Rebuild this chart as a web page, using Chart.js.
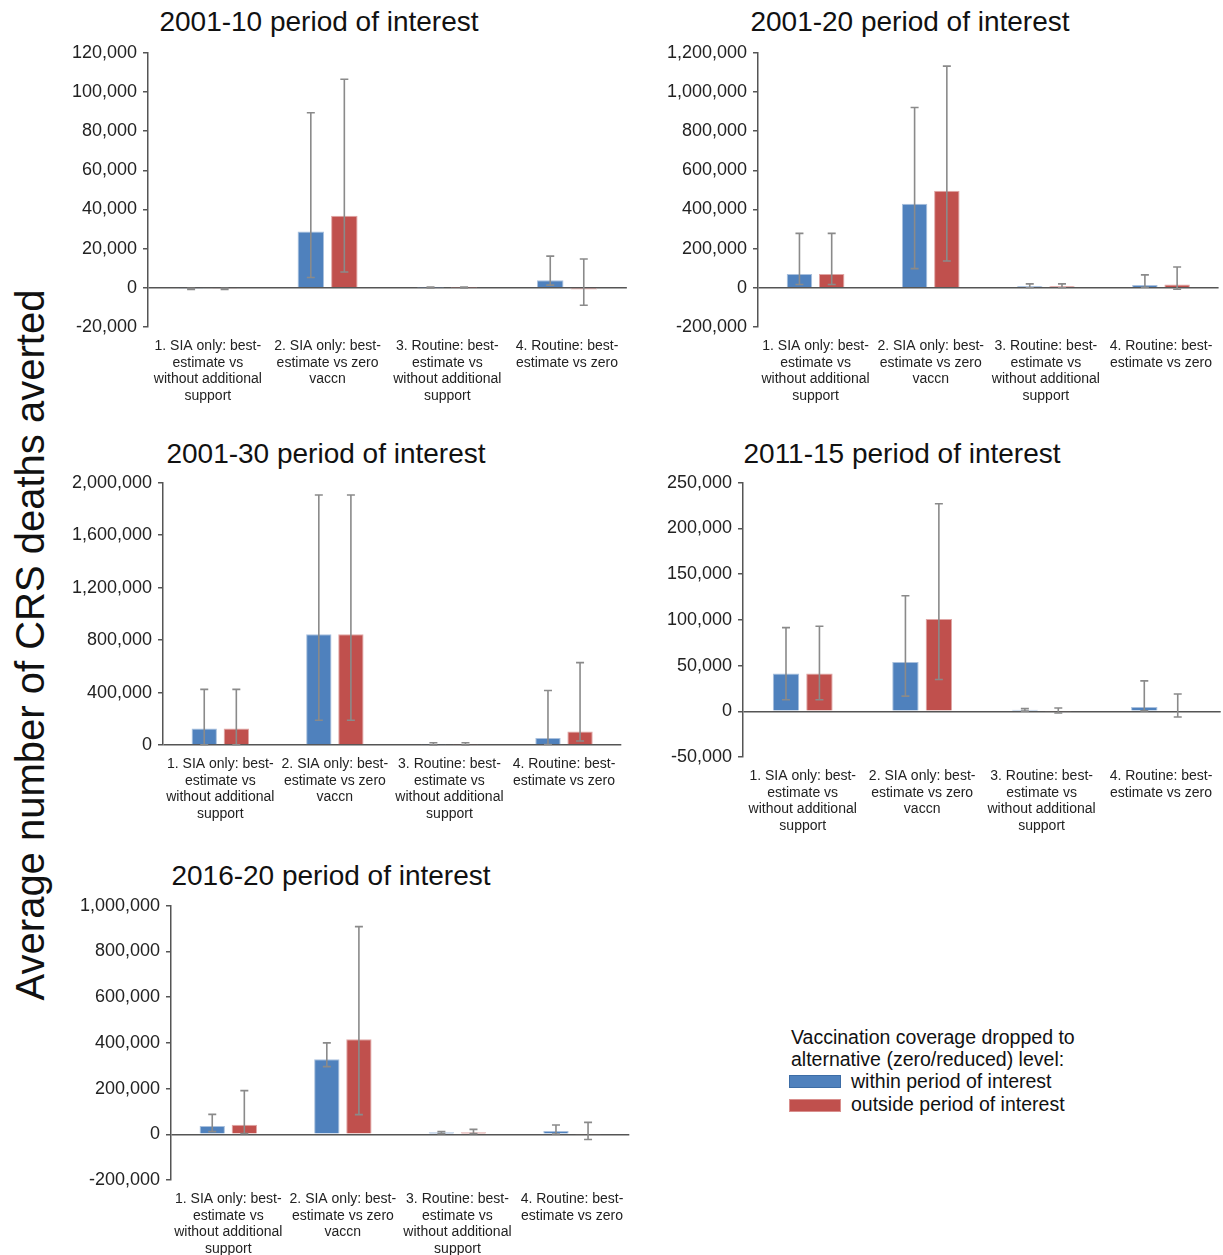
<!DOCTYPE html>
<html>
<head>
<meta charset="utf-8">
<script src="https://cdn.jsdelivr.net/npm/chart.js@4"></script>
<style>
  body { margin: 0; width: 1223px; height: 1255px; background: #fff; position: relative; overflow: hidden;
         font-family: "Liberation Sans", Arial, sans-serif; }
  .box { position: absolute; }
  .title { position: absolute; width: 500px; text-align: center; font-size: 28px; line-height: 32px; color: #111; white-space: nowrap; }
  .ytitle { position: absolute; left: 30px; top: 645px; font-size: 40px; color: #111; white-space: nowrap;
            transform: translate(-50%, -50%) rotate(-90deg); }
  .legend { position: absolute; left: 791px; top: 1026px; font-size: 19.5px; line-height: 22.3px; color: #111; }
  .sw { position: absolute; left: 789px; width: 52px; height: 13px; }
  .item { position: absolute; left: 851px; font-size: 19.5px; line-height: 22px; color: #111; white-space: nowrap; }
</style>
</head>
<body>
<div class="ytitle">Average number of CRS deaths averted</div>

<div class="title" style="left:69px; top:6px;">2001-10 period of interest</div>
<div class="title" style="left:660px; top:6px;">2001-20 period of interest</div>
<div class="title" style="left:76px; top:438px;">2001-30 period of interest</div>
<div class="title" style="left:652px; top:438px;">2011-15 period of interest</div>
<div class="title" style="left:81px; top:860px;">2016-20 period of interest</div>

<div class="box" id="b1"><canvas id="c1"></canvas></div>
<div class="box" id="b2"><canvas id="c2"></canvas></div>
<div class="box" id="b3"><canvas id="c3"></canvas></div>
<div class="box" id="b4"><canvas id="c4"></canvas></div>
<div class="box" id="b5"><canvas id="c5"></canvas></div>

<div class="legend">Vaccination coverage dropped to<br>alternative (zero/reduced) level:</div>
<div class="sw" style="top:1075px; background:#4f81bd; border:1px solid #3d6da6; box-sizing:border-box;"></div>
<div class="item" style="top:1070px;">within period of interest</div>
<div class="sw" style="top:1099px; background:#c0504d; border:1px solid #d98f8d; box-sizing:border-box;"></div>
<div class="item" style="top:1093px;">outside period of interest</div>

<script>
// categories (shared by all panels)
const categories = [
  ['1. SIA only: best-', 'estimate vs', 'without additional', 'support'],
  ['2. SIA only: best-', 'estimate vs zero', 'vaccn'],
  ['3. Routine: best-', 'estimate vs', 'without additional', 'support'],
  ['4. Routine: best-', 'estimate vs zero']
];
const seriesNames = ['within period of interest', 'outside period of interest'];

// 2001-10
const within0110 = [-500, 28700, 200, 3900];
const within0110Lo = [-800, 5300, 0, 1400];
const within0110Hi = [-200, 89400, 400, 16200];
const outside0110 = [-500, 36800, 200, -800];
const outside0110Lo = [-800, 8100, 0, -8900];
const outside0110Hi = [-200, 106500, 400, 14700];

// 2001-20
const within0120 = [70000, 429000, 8500, 15000];
const within0120Lo = [17000, 98000, 500, 3000];
const within0120Hi = [278000, 921000, 20000, 66000];
const outside0120 = [70000, 496000, 8500, 17000];
const outside0120Lo = [17000, 137000, 500, -7000];
const outside0120Hi = [278000, 1132000, 20000, 106000];

// 2001-30
const within0130 = [126000, 845000, 3000, 53000];
const within0130Lo = [2000, 189000, 0, 4000];
const within0130Hi = [424000, 1907000, 17600, 416000];
const outside0130 = [126000, 845000, 3000, 103000];
const outside0130Lo = [2000, 189000, 0, 30000];
const outside0130Hi = [424000, 1907000, 17600, 628000];

// 2011-15
const within1115 = [41300, 54000, 1800, 4700];
const within1115Lo = [12600, 16600, 200, 500];
const within1115Hi = [91600, 126400, 2900, 33300];
const outside1115 = [41300, 101000, -500, -700];
const outside1115Lo = [12600, 34800, -1800, -6200];
const outside1115Hi = [93000, 227000, 3600, 18900];

// 2016-20
const within1620 = [36000, 328000, 8700, 14500];
const within1620Lo = [11600, 296000, 3000, 1000];
const within1620Hi = [87000, 400000, 12000, 40600];
const outside1620 = [42000, 416000, 8700, -2000];
const outside1620Lo = [3000, 86000, 3000, -23000];
const outside1620Hi = [191000, 909000, 21700, 52000];

// y-axis ranges [min, max, step]
const yAxis0110 = [-20000, 120000, 20000];
const yAxis0120 = [-200000, 1200000, 200000];
const yAxis0130 = [0, 2000000, 400000];
const yAxis1115 = [-50000, 250000, 50000];
const yAxis1620 = [-200000, 1000000, 200000];

const FONT = '"Liberation Sans", Arial, sans-serif';
const AXIS = '#555';

const errorBars = {
  id: 'errorBars',
  afterDatasetsDraw(chart) {
    const ctx = chart.ctx;
    const y = chart.scales.y;
    chart.data.datasets.forEach((ds, i) => {
      chart.getDatasetMeta(i).data.forEach((bar, j) => {
        const lo = y.getPixelForValue(ds.errLo[j]);
        const hi = y.getPixelForValue(ds.errHi[j]);
        ctx.save();
        ctx.strokeStyle = '#8a8a8a';
        ctx.lineWidth = 1.6;
        ctx.beginPath();
        ctx.moveTo(bar.x, lo); ctx.lineTo(bar.x, hi);
        ctx.moveTo(bar.x - 4, lo); ctx.lineTo(bar.x + 4, lo);
        ctx.moveTo(bar.x - 4, hi); ctx.lineTo(bar.x + 4, hi);
        ctx.stroke();
        ctx.restore();
      });
    });
  }
};

function makeChart(n, area, within, wLo, wHi, outside, oLo, oHi, yr) {
  const YW = 100, XH = 85, PT = 15;
  const box = document.getElementById('b' + n);
  const left = area.left - YW, top = area.top - PT;
  box.style.left = left + 'px';
  box.style.top = top + 'px';
  box.style.width = (area.right + 1 - left) + 'px';
  box.style.height = (area.bottom + XH - top) + 'px';

  new Chart(document.getElementById('c' + n), {
    type: 'bar',
    data: {
      labels: categories,
      datasets: [{
        label: seriesNames[0],
        data: within, errLo: wLo, errHi: wHi,
        backgroundColor: '#4f81bd', borderColor: '#a9c0dd', borderWidth: 1,
        categoryPercentage: 0.56, barPercentage: 0.79
      }, {
        label: seriesNames[1],
        data: outside, errLo: oLo, errHi: oHi,
        backgroundColor: '#c0504d', borderColor: '#e0a6a5', borderWidth: 1,
        categoryPercentage: 0.56, barPercentage: 0.79
      }]
    },
    options: {
      responsive: true,
      maintainAspectRatio: false,
      animation: false,
      layout: { padding: { top: PT, right: 1, left: 0, bottom: 0 } },
      plugins: { legend: { display: false }, title: { display: false }, tooltip: { enabled: false } },
      scales: {
        x: {
          grid: { display: false, drawTicks: false },
          border: { display: false },
          ticks: { color: '#222', maxRotation: 0, autoSkip: false, padding: 10.5,
                   font: { family: FONT, size: 14, lineHeight: 1.2 } },
          afterFit: s => { s.height = XH; }
        },
        y: {
          min: yr[0], max: yr[1],
          border: { display: true, color: AXIS, width: 1.5 },
          grid: {
            color: c => c.tick.value === 0 ? AXIS : 'rgba(0,0,0,0)',
            lineWidth: 1.5, tickColor: AXIS, tickLength: 5
          },
          ticks: {
            stepSize: yr[2], color: '#222', padding: 6,
            font: { family: FONT, size: 18 },
            callback: v => v.toLocaleString('en-US')
          },
          afterFit: s => { s.width = YW; }
        }
      }
    },
    plugins: [errorBars]
  });
}

makeChart(1, { left: 148, right: 628, top: 51, bottom: 327 },
  within0110, within0110Lo, within0110Hi, outside0110, outside0110Lo, outside0110Hi, yAxis0110);
makeChart(2, { left: 758, right: 1222, top: 51, bottom: 327 },
  within0120, within0120Lo, within0120Hi, outside0120, outside0120Lo, outside0120Hi, yAxis0120);
makeChart(3, { left: 163, right: 625, top: 481, bottom: 745 },
  within0130, within0130Lo, within0130Hi, outside0130, outside0130Lo, outside0130Hi, yAxis0130);
makeChart(4, { left: 743, right: 1222, top: 481, bottom: 757 },
  within1115, within1115Lo, within1115Hi, outside1115, outside1115Lo, outside1115Hi, yAxis1115);
makeChart(5, { left: 171, right: 633, top: 904, bottom: 1180 },
  within1620, within1620Lo, within1620Hi, outside1620, outside1620Lo, outside1620Hi, yAxis1620);
</script>
</body>
</html>
